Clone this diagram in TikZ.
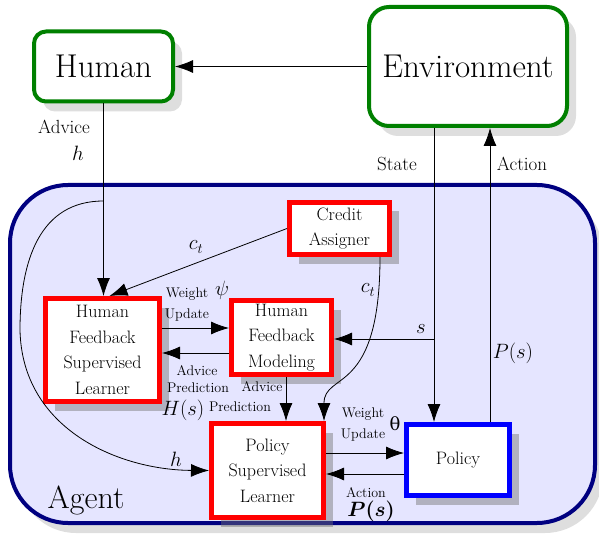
\documentclass[tikz,border=0pt]{standalone}
\usepackage{amsmath}
\usepackage{fontspec}
\newfontfamily\dvs{DejaVu Serif}
\usetikzlibrary{arrows.meta,shadows,calc}
\definecolor{agentfill}{RGB}{229,229,255}
\definecolor{agentdraw}{RGB}{0,0,128}
\definecolor{grn}{RGB}{0,128,0}
\begin{document}
\begin{tikzpicture}[x=1pt,y=-1pt,
  every node/.style={inner sep=0pt},
  arr/.style={-{Latex[length=18pt,width=13pt]},line width=0.8pt},
  topbox/.style={draw=grn,line width=4pt,fill=white,rounded corners=12pt,align=center,
    font=\fontsize{33}{36}\selectfont,
    drop shadow={shadow xshift=9pt,shadow yshift=-10pt,fill=black!13,opacity=1}},
  redbox/.style={draw=red,line width=5pt,fill=white,align=center,
    font=\fontsize{18}{25.5}\selectfont,
    drop shadow={shadow xshift=9pt,shadow yshift=-9pt,fill=black!55,opacity=0.45}},
  lbl/.style={font=\fontsize{14}{16}\selectfont},
  biglbl/.style={font=\fontsize{19}{22}\selectfont},
  mlbl/.style={font=\fontsize{21}{24}\selectfont},
]
\useasboundingbox (0,0) rectangle (599,537);
% agent container
\node[draw=agentdraw,line width=4pt,fill=agentfill,rounded corners=58pt,
  minimum width=585pt,minimum height=338pt,
  drop shadow={shadow xshift=8pt,shadow yshift=-10pt,fill=black!13,opacity=1}]
  (agent) at (302.5,354) {};
% top boxes
\node[topbox,minimum width=139pt,minimum height=70pt] (human) at (103.5,66.5) {Human};
\node[topbox,rounded corners=20pt,minimum width=198pt,minimum height=119pt] (env) at (468,66.5) {Environment};
% agent boxes
\node[redbox,minimum width=100pt,minimum height=52pt] (ca) at (339.5,228.5) {Credit\\Assigner};
\node[redbox,minimum width=114pt,minimum height=103pt] (hfsl) at (102.5,350) {Human\\Feedback\\Supervised\\Learner};
\node[redbox,minimum width=100pt,minimum height=74pt] (hfm) at (281.5,337.5) {Human\\Feedback\\Modeling};
\node[redbox,minimum width=112pt,minimum height=94pt] (psl) at (267.5,470.5) {Policy\\Supervised\\Learner};
\node[redbox,draw=blue,minimum width=103pt,minimum height=71pt] (policy) at (458,460) {Policy};
\node[font=\fontsize{32}{36}\selectfont] (agentlbl) at (86,500) {Agent};
% helper coordinates
\coordinate (sx) at (434,0);
\coordinate (ax) at (490,0);
\coordinate (sb) at (434,339);
\coordinate (u1) at (0,328);
\coordinate (u2) at (0,353);
\coordinate (u3) at (0,453);
\coordinate (u4) at (0,474);
\coordinate (v1) at (286,0);
\coordinate (hs) at (103.5,201);
% connectors
\draw[arr] (env.west) -- (human.east);
\draw[arr] (human.south) -- (human.south |- hfsl.north);
\draw[arr] (env.south -| sx) -- (policy.north -| sx);
\draw[arr] (policy.north -| ax) -- (env.south -| ax);
\draw[arr] (sb) -- (sb -| hfm.east);
\draw[arr] (ca.west) -- ($(hfsl.north)+(7,0)$);
\draw[arr] ($(ca.south)+(40.5,0)$) .. controls +(0,140) and +(0,-50) .. ($(psl.north)+(56.5,0)$);
\draw[arr] (hfsl.east |- u1) -- (hfm.west |- u1);
\draw[arr] (hfm.west |- u2) -- (hfsl.east |- u2);
\draw[arr] (hfm.south -| v1) -- (psl.north -| v1);
\draw[arr] (psl.east |- u3) -- (policy.west |- u3);
\draw[arr] (policy.west |- u4) -- (psl.east |- u4);
\draw[arr] (hs) .. controls (40,201) and (20,260) .. (20,330) .. controls (22,430) and (120,470) .. (psl.west);
% labels
\node[biglbl] at (64,127) {Advice};
\node[mlbl] at (78,153) {$h$};
\node[biglbl] at (397,164) {State};
\node[biglbl] at (522,164) {Action};
\node[mlbl] at (513,353) {$P(s)$};
\node[mlbl] at (421,329) {$s$};
\node[mlbl] at (196,247) {$c_t$};
\node[mlbl] at (368,290) {$c_t$};
\node[lbl] at (187,294) {Weight};
\node[lbl] at (187,315) {Update};
\node[mlbl] at (222,290) {$\psi$};
\node[lbl] at (197,371) {Advice};
\node[lbl] at (198,388) {Prediction};
\node[mlbl] at (183,410) {$H(s)$};
\node[lbl] at (262,387) {Advice};
\node[lbl] at (240,407) {Prediction};
\node[lbl] at (363,414) {Weight};
\node[lbl] at (363,435) {Update};
\node[font=\dvs\fontsize{18}{20}\selectfont] at (395,424) {θ};
\node[lbl] at (366,493) {Action};
\node[mlbl] at (371,511) {$\boldsymbol{P(s)}$};
\node[mlbl] at (176,459) {$h$};
\end{tikzpicture}
\end{document}
